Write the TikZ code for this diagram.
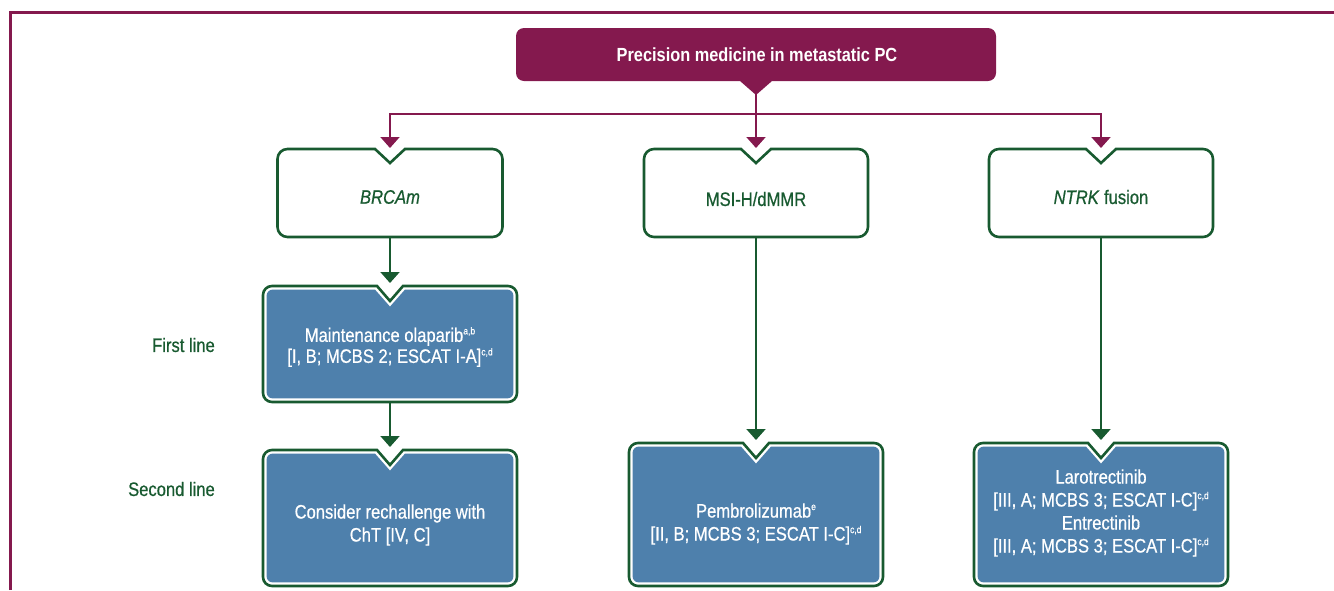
\documentclass[tikz,border=0pt]{standalone}
\usepackage{fontspec}
\setmainfont{Liberation Sans}[FakeStretch=0.86]
\newfontfamily\medfont{Liberation Sans}[FakeStretch=0.85,FakeBold=0.6]
\usetikzlibrary{arrows.meta}
\definecolor{maroon}{RGB}{132,25,78}
\definecolor{dgreen}{RGB}{24,90,48}
\definecolor{bblue}{RGB}{78,128,172}
% box with a notch cut into the top edge
\newcommand\nbox[8]{%
 \pgfmathsetmacro\nbXa{#1}\pgfmathsetmacro\nbXb{#2}%
 \pgfmathsetmacro\nbYt{-(#3)}\pgfmathsetmacro\nbYb{-(#4)}%
 \pgfmathsetmacro\nbCx{(\nbXa+\nbXb)/2}\pgfmathsetmacro\nbR{#5}%
 \pgfmathsetmacro\nbW{#6}\pgfmathsetmacro\nbD{#7}%
 \path[#8] (\nbCx,\nbYt-\nbD) -- (\nbCx+\nbW,\nbYt) -- (\nbXb-\nbR,\nbYt)
   arc[start angle=90,end angle=0,radius=\nbR pt] -- (\nbXb,\nbYb+\nbR)
   arc[start angle=0,end angle=-90,radius=\nbR pt] -- (\nbXa+\nbR,\nbYb)
   arc[start angle=-90,end angle=-180,radius=\nbR pt] -- (\nbXa,\nbYt-\nbR)
   arc[start angle=180,end angle=90,radius=\nbR pt] -- (\nbCx-\nbW,\nbYt) -- cycle;}
% box with a notch pointing down from the bottom edge
\newcommand\tbox[8]{%
 \pgfmathsetmacro\nbXa{#1}\pgfmathsetmacro\nbXb{#2}%
 \pgfmathsetmacro\nbYt{-(#3)}\pgfmathsetmacro\nbYb{-(#4)}%
 \pgfmathsetmacro\nbCx{(\nbXa+\nbXb)/2}\pgfmathsetmacro\nbR{#5}%
 \pgfmathsetmacro\nbW{#6}\pgfmathsetmacro\nbD{#7}%
 \path[#8] (\nbCx-\nbW,\nbYb) -- (\nbCx,\nbYb-\nbD) -- (\nbCx+\nbW,\nbYb) -- (\nbXb-\nbR,\nbYb)
   arc[start angle=-90,end angle=0,radius=\nbR pt] -- (\nbXb,\nbYt-\nbR)
   arc[start angle=0,end angle=90,radius=\nbR pt] -- (\nbXa+\nbR,\nbYt)
   arc[start angle=90,end angle=180,radius=\nbR pt] -- (\nbXa,\nbYb+\nbR)
   arc[start angle=180,end angle=270,radius=\nbR pt] -- cycle;}
\newcommand\bluebox[4]{%
 \nbox{#1}{#2}{#3}{#4}{9}{13}{15}{draw=dgreen,line width=2.6pt,fill=white}%
 \nbox{#1+3.6}{#2-3.6}{#3+3.6}{#4-3.6}{6}{15}{17}{fill=bblue}}
\newcommand\sups[1]{\raisebox{7.5pt}{\fontsize{10}{10}\selectfont #1}}
\begin{document}
\begin{tikzpicture}[x=1pt,y=1pt,
  gtxt/.style={text=dgreen,inner sep=0pt,align=center,font=\medfont\fontsize{19.5}{23}\selectfont},
  wtxt/.style={text=white,inner sep=0pt,align=center,font=\medfont\fontsize{19.5}{23}\selectfont},
  marr/.style={draw=maroon,line width=2pt,-{Triangle[width=19pt,length=11pt]}},
  mline/.style={draw=maroon,line width=2pt},
  garr/.style={draw=dgreen,line width=2pt,-{Triangle[width=19pt,length=11pt]}},
  frame/.style={draw=maroon,line width=3pt}]
\useasboundingbox (0,0) rectangle (1334,-590);
% frame lines
\draw[frame] (10.5,-590) -- (10.5,-12.5) -- (1334,-12.5);
% title box
\tbox{516}{996}{28}{81}{8}{16}{14}{fill=maroon}
\node[text=white,inner sep=0pt,font=\fontsize{19}{23}\selectfont\bfseries] (title) at (757,-55) {Precision medicine in metastatic PC};
% first row
\nbox{277.5}{502.5}{149}{237}{10}{15}{14}{draw=dgreen,line width=2.6pt,fill=white}
\nbox{644}{868}{149}{237}{10}{15}{14}{draw=dgreen,line width=2.6pt,fill=white}
\nbox{989}{1213}{149}{237}{10}{15}{14}{draw=dgreen,line width=2.6pt,fill=white}
\node[gtxt] (brca) at (390,-197) {\itshape BRCAm};
\node[gtxt] (msi) at (756,-199) {MSI-H/dMMR};
\node[gtxt] (ntrk) at (1101,-197) {\textit{NTRK} fusion};
% blue boxes
\bluebox{263}{517}{286}{402}
\bluebox{263}{517}{450}{586}
\bluebox{629}{883}{443}{586}
\bluebox{974}{1228}{443}{586}
\node[wtxt,font=\medfont\fontsize{19.5}{21}\selectfont] (maint) at (390,-347) {Maintenance olaparib\sups{a,b}\\{[}I, B; MCBS 2; ESCAT I-A]\sups{c,d}};
\node[wtxt] (cht) at (390,-525) {Consider rechallenge with\\ChT {[}IV, C]};
\node[wtxt] (pemb) at (756,-524) {Pembrolizumab\sups{e}\\{[}II, B; MCBS 3; ESCAT I-C]\sups{c,d}};
\node[wtxt] (laro) at (1101,-513) {Larotrectinib\\{[}III, A; MCBS 3; ESCAT I-C]\sups{c,d}\\Entrectinib\\{[}III, A; MCBS 3; ESCAT I-C]\sups{c,d}};
% row labels
\node[gtxt,anchor=east] (first) at (215,-345) {First line};
\node[gtxt,anchor=east] (second) at (215,-489) {Second line};
% connector points
\coordinate (tT) at (756,-94);
\coordinate (split) at (756,-114);
\coordinate (brcaT) at (390,-148);
\coordinate (msiT) at (756,-148);
\coordinate (ntrkT) at (1101,-148);
\coordinate (brcaB) at (390,-237);
\coordinate (msiB) at (756,-237);
\coordinate (ntrkB) at (1101,-237);
\coordinate (maintT) at (390,-283);
\coordinate (maintB) at (390,-402);
\coordinate (chtT) at (390,-447);
\coordinate (pembT) at (756,-440);
\coordinate (laroT) at (1101,-440);
% connectors
\draw[mline] (tT) -- (split);
\draw[marr] (split) -| (brcaT);
\draw[marr] (split) -| (ntrkT);
\draw[marr] (split) -- (msiT);
\draw[garr] (brcaB) -- (maintT);
\draw[garr] (maintB) -- (chtT);
\draw[garr] (msiB) -- (pembT);
\draw[garr] (ntrkB) -- (laroT);
\end{tikzpicture}
\end{document}
